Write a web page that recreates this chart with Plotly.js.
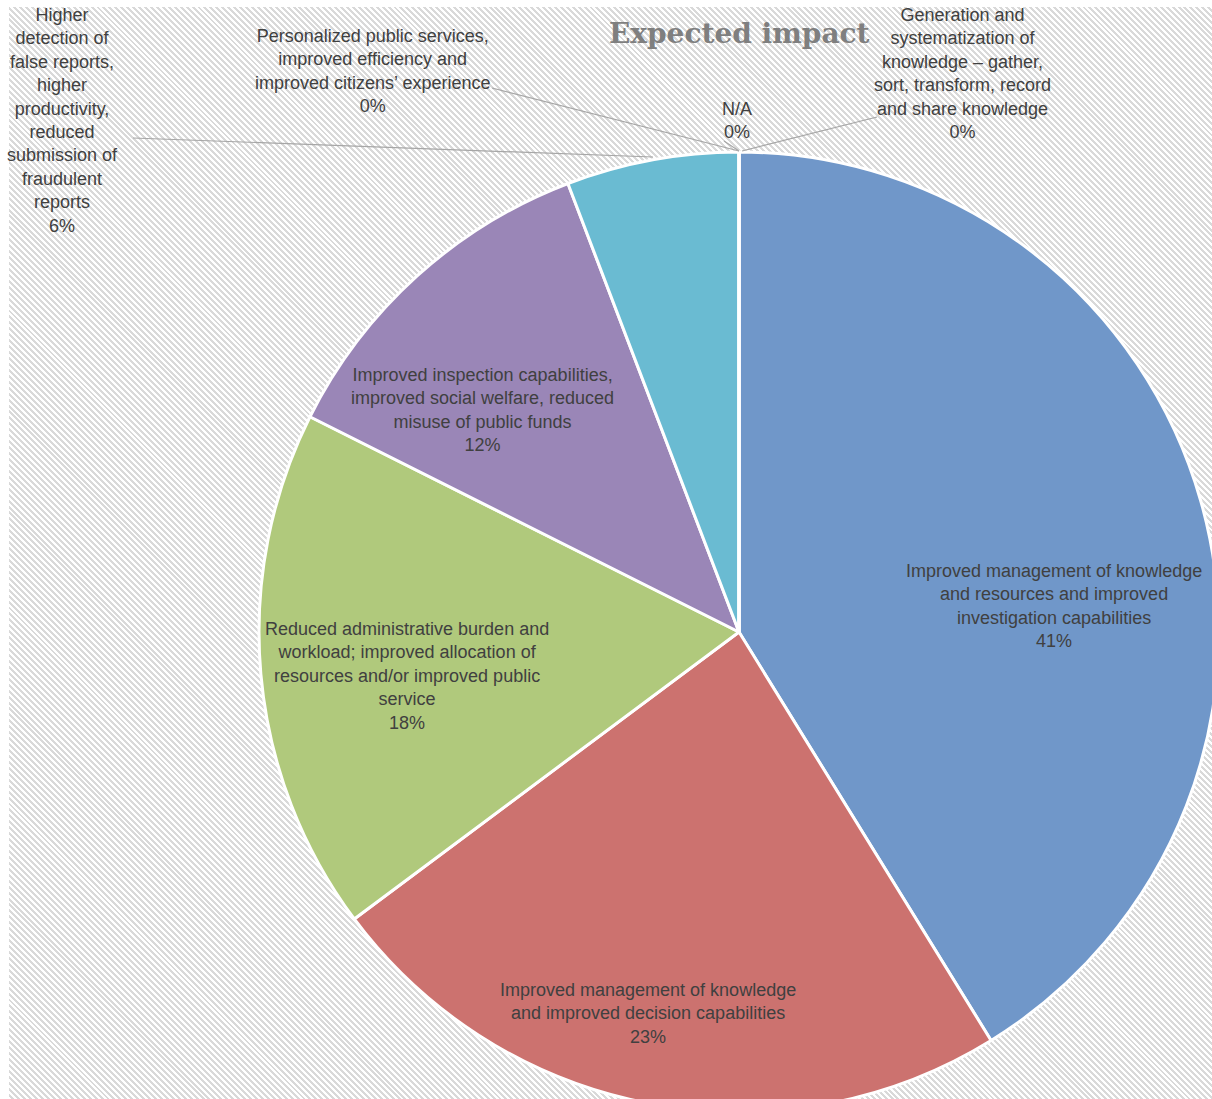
<!DOCTYPE html>
<html>
<head>
<meta charset="utf-8">
<script src="https://cdn.plot.ly/plotly-3.0.1.min.js"></script>
<style>
  html, body { margin: 0; padding: 0; background: #ffffff; overflow: hidden; width: 1212px; height: 1099px; }
  #hatch { position: absolute; left: 9px; top: 7px; width: 1203px; height: 1092px;
    background: repeating-linear-gradient(45deg, #ffffff 0px, #ffffff 2.1px, #d9d9d9 2.1px, #d9d9d9 4.2px); }
  #chart { position: absolute; left: 0; top: 0; width: 1230px; height: 1120px; }
</style>
</head>
<body>
<div id="hatch"></div>
<div id="chart"></div>
<script>
// ---- data ----
const chartTitle = "Expected impact";
const categories = [
  "Improved management of knowledge<br>and resources and improved<br>investigation capabilities",
  "Improved management of knowledge<br>and improved decision capabilities",
  "Reduced administrative burden and<br>workload; improved allocation of<br>resources and/or improved public<br>service",
  "Improved inspection capabilities,<br>improved social welfare, reduced<br>misuse of public funds",
  "Higher<br>detection of<br>false reports,<br>higher<br>productivity,<br>reduced<br>submission of<br>fraudulent<br>reports",
  "Personalized public services,<br>improved efficiency and<br>improved citizens’ experience",
  "N/A",
  "Generation and<br>systematization of<br>knowledge – gather,<br>sort, transform, record<br>and share knowledge"
];
// slice sizes
const values = [41.2, 23.6, 17.6, 11.8, 5.8, 0, 0, 0];
// percentages as printed on the chart's data labels
const percentLabels = ["41%", "23%", "18%", "12%", "6%", "0%", "0%", "0%"];
const sliceColors = ["#7097c9", "#cc726f", "#b0c97c", "#9a86b7", "#6abbd2", "#c0c0c0", "#c0c0c0", "#c0c0c0"];

// ---- layout helpers (pixel positions of the label boxes, page coords) ----
const W = 1230, H = 1120;
const cx = 739, cy = 632, R = 480;
const labelPos = [
  [1054, 606], [648, 1013], [407, 676], [482, 410],
  [62, 121], [372, 71], [737, 121], [962, 74]
];
const leaderLines = [
  [[133, 138], [653, 157]],
  [[492, 88], [739, 151]],
  [[724, 141], [739, 151]],
  [[877, 117], [742, 151]]
];
const px = x => x / W;
const py = y => 1 - y / H;

const textFont = { family: "Liberation Sans, Arial, sans-serif", size: 18, color: "#404040" };

const annotations = categories.map((c, i) => ({
  xref: "paper", yref: "paper",
  x: px(labelPos[i][0]), y: py(labelPos[i][1]),
  xanchor: "center", yanchor: "middle",
  text: c + "<br>" + percentLabels[i],
  showarrow: false, align: "center",
  font: textFont
}));
annotations.push({
  xref: "paper", yref: "paper", x: px(739), y: py(33),
  xanchor: "center", yanchor: "middle", showarrow: false,
  text: "<b>" + chartTitle + "</b>",
  font: { family: "DejaVu Serif, Liberation Serif, serif", size: 28, color: "#7f7f7f" }
});

const shapes = leaderLines.map(l => ({
  type: "line", xref: "paper", yref: "paper",
  x0: px(l[0][0]), y0: py(l[0][1]), x1: px(l[1][0]), y1: py(l[1][1]),
  line: { color: "#a6a6a6", width: 1.2 }
}));

const trace = {
  type: "pie",
  labels: categories,
  values: values,
  sort: false,
  direction: "clockwise",
  rotation: 0,
  textinfo: "none",
  hoverinfo: "label+percent",
  marker: { colors: sliceColors, line: { color: "#ffffff", width: 3 } },
  domain: { x: [(cx - R) / W, (cx + R) / W], y: [1 - (cy + R) / H, 1 - (cy - R) / H] },
  showlegend: false
};

const layout = {
  width: W, height: H,
  margin: { l: 0, r: 0, t: 0, b: 0, pad: 0 },
  paper_bgcolor: "rgba(0,0,0,0)",
  plot_bgcolor: "rgba(0,0,0,0)",
  showlegend: false,
  annotations: annotations,
  shapes: shapes
};

Plotly.newPlot("chart", [trace], layout, { displayModeBar: false, staticPlot: true });
</script>
</body>
</html>
